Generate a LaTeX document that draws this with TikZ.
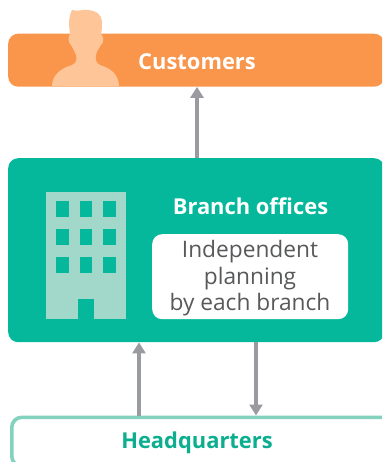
\documentclass[tikz,border=0pt]{standalone}
\usepackage{fontspec}
\setmainfont{Open Sans}
\usetikzlibrary{arrows.meta}
\definecolor{orangebox}{HTML}{F9964B}
\definecolor{skin}{HTML}{FDC598}
\definecolor{greenbox}{HTML}{05B89C}
\definecolor{bldg}{HTML}{A2D8C9}
\definecolor{hqline}{HTML}{82D2BD}
\definecolor{hqtext}{HTML}{0BAE8E}
\definecolor{arrowgray}{HTML}{9A9BA0}
\definecolor{bodytext}{HTML}{58595B}
\tikzset{
  panel/.style={rectangle,rounded corners=10pt,inner sep=0pt,anchor=north west},
  conn/.style={draw=arrowgray,line width=3.6pt,-{Triangle[length=11pt,width=13pt]},shorten >=0pt},
  titletext/.style={font=\fontsize{21.9}{24}\selectfont\bfseries,text=white,inner sep=0pt},
}
\begin{document}
\begin{tikzpicture}[x=1pt,y=-1pt]
\useasboundingbox (0,0) rectangle (382,462);
\clip (0,0) rectangle (382,462);
% customers
\node[panel,fill=orangebox,minimum width=376pt,minimum height=53pt] (customers) at (8,33.5) {};
\fill[skin] (52,86.5) .. controls (52,74) and (62,68) .. (72,65)
  .. controls (77,63) and (77,58) .. (76,55)
  .. controls (74,50) and (72,47) .. (71,45)
  .. controls (68,43) and (68,37) .. (70,34)
  .. controls (69,26) and (68,18) .. (72,10)
  .. controls (78,12) and (82,9) .. (88,10)
  .. controls (96,11) and (101,13) .. (102,22)
  .. controls (102,26) and (102,30) .. (101,34)
  .. controls (104,37) and (104,43) .. (101,45)
  .. controls (99,48) and (97,51) .. (96,55)
  .. controls (95,59) and (96,63) .. (100,65)
  .. controls (110,68) and (119,74) .. (119,86.5) -- cycle;
\node[titletext] (custlabel) at (197,61.5) {Customers};
% branch
\node[panel,fill=greenbox,minimum width=376pt,minimum height=184pt] (branch) at (8,158) {};
\fill[bldg] (46,192) rectangle (125.5,319);
\foreach \wx in {56,79.5,103}
  \foreach \wy in {201,229,257}
    \fill[greenbox] (\wx,\wy) rectangle ++(12.5,16);
\fill[greenbox] (78,299) rectangle (94,319);
\node[titletext] (brlabel) at (250.5,206) {Branch offices};
\node[panel,fill=white,minimum width=196pt,minimum height=85pt] (plan) at (152,234) {};
\node[text=bodytext,align=center,inner sep=0pt,font=\fontsize{22.7}{26.5}\selectfont] (plantext) at (250,278.5) {Independent\\planning\\by each branch};
% hq
\node[panel,draw=hqline,line width=3.6pt,fill=white,minimum width=380pt,minimum height=49pt] (hq) at (10,415.5) {};
\node[titletext,text=hqtext] (hqlabel) at (197,442.5) {Headquarters};
% connectors
\coordinate (xa) at (197,0);
\coordinate (xb) at (139,0);
\coordinate (xc) at (256,0);
\draw[conn] (xa |- branch.north) -- (xa |- customers.south);
\draw[conn] (xb |- hq.north) -- (xb |- branch.south);
\draw[conn] (xc |- branch.south) -- (xc |- hq.north);
\end{tikzpicture}
\end{document}
